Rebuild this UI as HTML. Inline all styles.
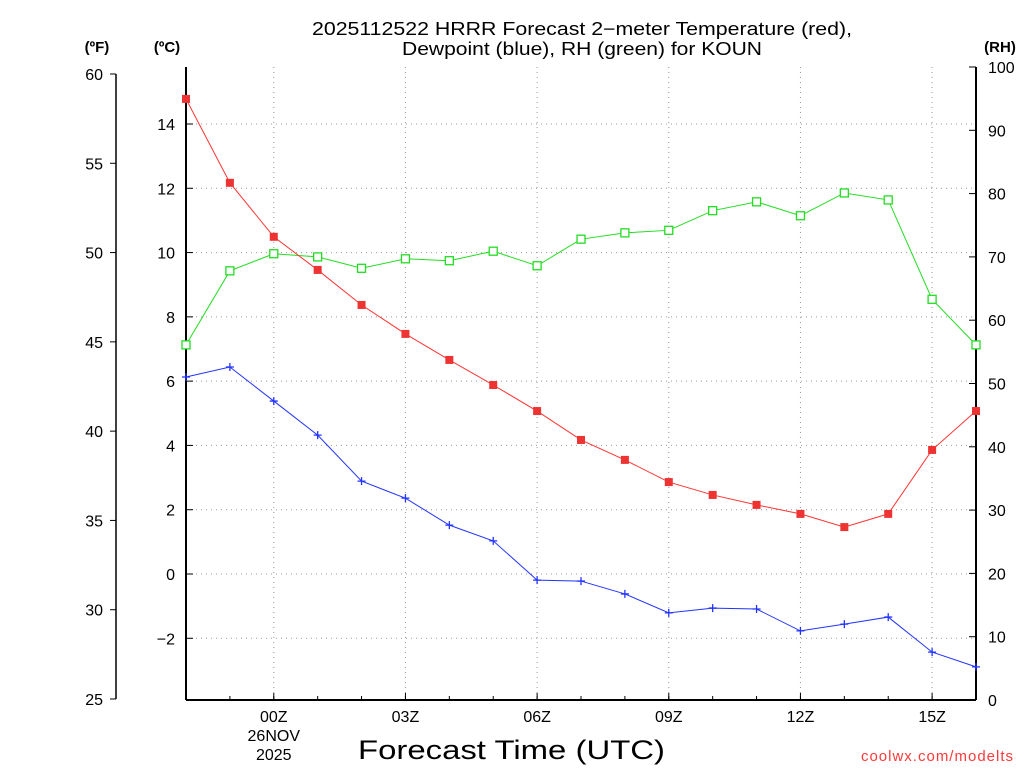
<!DOCTYPE html>
<html><head><meta charset="utf-8"><style>
body{margin:0;background:#fff;width:1024px;height:768px;overflow:hidden}
svg text{font-family:"Liberation Sans",sans-serif}
</style></head><body>
<svg id="c" width="1024" height="768" xmlns="http://www.w3.org/2000/svg"></svg>
<script>
const hours=[-2,-1,0,1,2,3,4,5,6,7,8,9,10,11,12,13,14,15,16];
const tempC=[14.78,12.17,10.49,9.46,8.37,7.47,6.66,5.88,5.07,4.17,3.55,2.86,2.46,2.15,1.87,1.46,1.87,3.86,5.07];
const dewC=[6.13,6.44,5.38,4.32,2.89,2.36,1.52,1.03,-0.19,-0.22,-0.62,-1.21,-1.06,-1.09,-1.77,-1.56,-1.34,-2.43,-2.89];
const rh=[56.1,67.8,70.5,70.0,68.2,69.7,69.4,70.9,68.6,72.8,73.8,74.2,77.3,78.7,76.5,80.1,79.0,63.3,56.1];
const cTicks=[-2,0,2,4,6,8,10,12,14];
const fTicks=[25,30,35,40,45,50,55,60];
const rhTicks=[0,10,20,30,40,50,60,70,80,90,100];
const xTicks=[0,3,6,9,12,15];
const xLabels=["00Z","03Z","06Z","09Z","12Z","15Z"];

const NS="http://www.w3.org/2000/svg",svg=document.getElementById('c');
const X0=186,X1=976,Y0=67,Y1=700;
const x=h=>X0+(h+2)*(X1-X0)/18;
const yC=c=>574-c*32.143;
const yR=r=>Y1-r*(Y1-Y0)/100;
const yF=f=>yC((f-32)*5/9);
function el(t,a,txt){const e=document.createElementNS(NS,t);for(const k in a)e.setAttribute(k,a[k]);if(txt!=null)e.textContent=txt;svg.appendChild(e);return e;}

for(const h of xTicks){const g=el('line',{x1:x(h),x2:x(h),y1:Y0,y2:Y1,stroke:'#999','stroke-dasharray':'1,4'});
}
for(const c of cTicks){const g=el('line',{x1:X0,x2:X1,y1:yC(c),y2:yC(c),stroke:'#999','stroke-dasharray':'1,4'});
}

let a=el('line',{x1:X0,x2:X0,y1:Y0,y2:Y1,stroke:'#000','stroke-width':2});
a=el('line',{x1:X1,x2:X1,y1:Y0,y2:Y1,stroke:'#000','stroke-width':2});
a=el('line',{x1:X0,x2:X1,y1:Y1,y2:Y1,stroke:'#000','stroke-width':2});
a=el('line',{x1:116,x2:116,y1:yF(60),y2:yF(25),stroke:'#000','stroke-width':1.5});

for(const c of cTicks){el('line',{x1:X0,x2:X0+7,y1:yC(c),y2:yC(c),stroke:'#000'});
const t=el('text',{x:175,y:yC(c)+6,'text-anchor':'end','font-size':16},(c<0?'\u2212'+(-c):c));
}
for(const f of fTicks){el('line',{x1:110,x2:116,y1:yF(f),y2:yF(f),stroke:'#000'});
const t=el('text',{x:103,y:yF(f)+6,'text-anchor':'end','font-size':16},f);
}
for(const r of rhTicks){el('line',{x1:X1-7,x2:X1,y1:yR(r),y2:yR(r),stroke:'#000'});
const t=el('text',{x:988,y:yR(r)+6,'font-size':16},r);
}
xTicks.forEach((h,i)=>{el('line',{x1:x(h),x2:x(h),y1:Y1,y2:Y1-7,stroke:'#000'});
const t=el('text',{x:x(h),y:722,'text-anchor':'middle','font-size':16},xLabels[i]);
});
for(let h=-2;h<=16;h++)el('line',{x1:x(h),x2:x(h),y1:Y1,y2:Y1-4,stroke:'#000'});
let t=el('text',{x:x(0),y:741,'text-anchor':'middle','font-size':16},'26NOV');
t=el('text',{x:x(0),y:760,'text-anchor':'middle','font-size':16},'2025');

t=el('text',{x:97,y:52,'text-anchor':'middle','font-size':15,'font-weight':'bold'},'(ºF)');
t=el('text',{x:167,y:52,'text-anchor':'middle','font-size':15,'font-weight':'bold'},'(ºC)');
t=el('text',{x:1000,y:52,'text-anchor':'middle','font-size':15,'font-weight':'bold'},'(RH)');

t=el('text',{x:312,y:35,'font-size':18,textLength:540,lengthAdjust:'spacingAndGlyphs'},'2025112522 HRRR Forecast 2\u2212meter Temperature (red),');
t=el('text',{x:402,y:55,'font-size':18,textLength:360,lengthAdjust:'spacingAndGlyphs'},'Dewpoint (blue), RH (green) for KOUN');
t=el('text',{x:358,y:759,'font-size':27,textLength:307,lengthAdjust:'spacingAndGlyphs'},'Forecast Time (UTC)');
t=el('text',{x:1014,y:761,'text-anchor':'end','font-size':15,fill:'#ff3a3a','letter-spacing':'1'},'coolwx.com/modelts');

function line(vals,yf,col,name){const p=el('polyline',{points:vals.map((v,i)=>x(hours[i])+','+yf(v)).join(' '),fill:'none',stroke:col,'stroke-width':1});
}
line(rh,yR,'#22dd22','rh-line');line(tempC,yC,'#ff3333','temperature-line');line(dewC,yC,'#2233ff','dewpoint-line');
rh.forEach((v,i)=>{const m=el('rect',{x:x(hours[i])-4,y:yR(v)-4,width:8,height:8,fill:'#fff',stroke:'#22dd22','stroke-width':1.3});
});
tempC.forEach((v,i)=>{const m=el('rect',{x:x(hours[i])-4,y:yC(v)-4,width:8,height:8,fill:'#ee3333'});
});
dewC.forEach((v,i)=>{const cx=x(hours[i]),cy=yC(v);const m=el('path',{d:`M${cx-4},${cy}H${cx+4}M${cx},${cy-4}V${cy+4}`,stroke:'#2233ff','stroke-width':1.3});
});
</script>
</body></html>
